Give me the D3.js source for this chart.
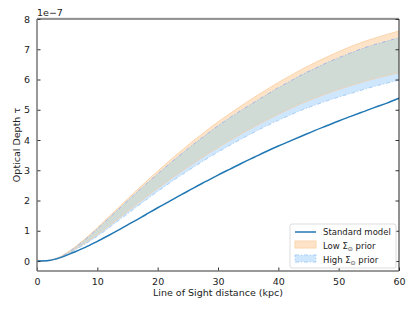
<!DOCTYPE html>
<html>
<head>
<meta charset="utf-8">
<script src="https://d3js.org/d3.v7.min.js"></script>
<style>
  body { margin: 0; background: #fff; }
  svg { font-family: "DejaVu Sans", sans-serif; }
</style>
</head>
<body>
<svg id="chart" width="415" height="311"></svg>
<script>
// distance along the line of sight (kpc), values in units of 1e-7
var distance = [0, 2, 4, 6, 8, 10, 12, 14, 16, 18, 20, 22, 24, 26, 28, 30,
                32, 34, 36, 38, 40, 42, 44, 46, 48, 50, 52, 54, 56, 58, 60];
var standard = [0, 0.02, 0.12, 0.28, 0.45, 0.65, 0.86, 1.08, 1.30, 1.53, 1.76, 1.98,
                2.20, 2.42, 2.63, 2.84, 3.04, 3.24, 3.43, 3.62, 3.80, 3.97, 4.14,
                4.31, 4.47, 4.63, 4.78, 4.93, 5.08, 5.22, 5.38];
var lowUpper = [0, 0.02, 0.16, 0.42, 0.74, 1.10, 1.48, 1.86, 2.24, 2.61, 2.97, 3.32,
                3.66, 3.99, 4.30, 4.60, 4.88, 5.15, 5.41, 5.66, 5.90, 6.13, 6.35,
                6.55, 6.74, 6.92, 7.09, 7.24, 7.37, 7.49, 7.60];
var lowLower = [0, 0.02, 0.13, 0.35, 0.60, 0.87, 1.17, 1.48, 1.79, 2.10, 2.40, 2.69,
                2.97, 3.24, 3.50, 3.75, 3.99, 4.22, 4.44, 4.65, 4.85, 5.04, 5.22,
                5.38, 5.53, 5.67, 5.80, 5.92, 6.03, 6.13, 6.22];
var highUpper = [0, 0.02, 0.15, 0.40, 0.71, 1.06, 1.43, 1.80, 2.17, 2.53, 2.88, 3.22,
                 3.55, 3.87, 4.17, 4.47, 4.74, 5.00, 5.25, 5.49, 5.73, 5.95, 6.17,
                 6.36, 6.55, 6.72, 6.88, 7.03, 7.16, 7.27, 7.38];
var highLower = [0, 0.02, 0.12, 0.33, 0.57, 0.82, 1.11, 1.41, 1.71, 2.01, 2.30, 2.58,
                 2.85, 3.11, 3.36, 3.60, 3.83, 4.05, 4.26, 4.46, 4.65, 4.83, 5.00,
                 5.15, 5.29, 5.42, 5.54, 5.66, 5.78, 5.88, 5.98];
var xTicks = [0, 10, 20, 30, 40, 50, 60];
var yTicks = [0, 1, 2, 3, 4, 5, 6, 7, 8];

var svg = d3.select("#chart");
var mLeft = 37, mRight = 399, mTop = 19, mBottom = 271;

var x = d3.scaleLinear().domain([0, 60]).range([mLeft, mRight]);
var y = d3.scaleLinear().domain([-0.33, 8]).range([mBottom, mTop]);

var rows = distance.map(function(d, i) {
    return { d: d, s: standard[i], lu: lowUpper[i], ll: lowLower[i], hu: highUpper[i], hl: highLower[i] };
});

var band = function(lo, hi) {
    return d3.area().x(function(r) { return x(r.d); })
        .y0(function(r) { return y(lo(r)); })
        .y1(function(r) { return y(hi(r)); })
        .curve(d3.curveMonotoneX);
};
var line = function(f) {
    return d3.line().x(function(r) { return x(r.d); })
        .y(function(r) { return y(f(r)); })
        .curve(d3.curveMonotoneX);
};

// bands
svg.append("path").attr("d", band(function(r) { return r.ll; }, function(r) { return r.lu; })(rows))
    .attr("fill", "#fde4c9");
svg.append("path").attr("d", band(function(r) { return r.hl; }, function(r) { return r.hu; })(rows))
    .attr("fill", "#cfe7fc");
svg.append("path").attr("d", band(function(r) { return Math.max(r.ll, r.hl); },
                                  function(r) { return Math.min(r.lu, r.hu); })(rows))
    .attr("fill", "#cfdbd4");

// band edges
svg.append("path").attr("d", line(function(r) { return r.lu; })(rows))
    .attr("fill", "none").attr("stroke", "#fbd5ad").attr("stroke-width", 1);
svg.append("path").attr("d", line(function(r) { return r.ll; })(rows))
    .attr("fill", "none").attr("stroke", "#e9d3bd").attr("stroke-width", 1);
svg.append("path").attr("d", line(function(r) { return r.hu; })(rows))
    .attr("fill", "none").attr("stroke", "#aab7e3").attr("stroke-width", 1)
    .attr("stroke-dasharray", "4,2,1,2");
svg.append("path").attr("d", line(function(r) { return r.hl; })(rows))
    .attr("fill", "none").attr("stroke", "#a9cdf5").attr("stroke-width", 1)
    .attr("stroke-dasharray", "4,2,1,2");

// standard model
svg.append("path").attr("d", line(function(r) { return r.s; })(rows))
    .attr("fill", "none").attr("stroke", "#1f77b4").attr("stroke-width", 1.5);

// axes
var xAxis = d3.axisBottom(x).tickValues(xTicks).tickSizeInner(-3.5).tickSizeOuter(0).tickPadding(7);
var yAxis = d3.axisLeft(y).tickValues(yTicks).tickSizeInner(-3.5).tickSizeOuter(0).tickPadding(7);
var yAxisR = d3.axisRight(y).tickValues(yTicks).tickSizeInner(-3.5).tickSizeOuter(0).tickFormat("");

var gx = svg.append("g").attr("transform", "translate(0," + mBottom + ")").call(xAxis);
var gy = svg.append("g").attr("transform", "translate(" + mLeft + ",0)").call(yAxis);
var gr = svg.append("g").attr("transform", "translate(" + mRight + ",0)").call(yAxisR);
[gx, gy, gr].forEach(function(g) {
    g.select(".domain").remove();
    g.selectAll("text").attr("font-size", 9.5).attr("fill", "#222").attr("font-family", "DejaVu Sans");
    g.selectAll("line").attr("stroke", "#333");
});

// frame
svg.append("line").attr("x1", mLeft).attr("x2", mRight).attr("y1", mTop - 1).attr("y2", mTop - 1)
    .attr("stroke", "#ddd");
svg.append("line").attr("x1", mLeft).attr("x2", mRight).attr("y1", mTop).attr("y2", mTop)
    .attr("stroke", "#333");
svg.append("line").attr("x1", mRight).attr("x2", mRight).attr("y1", mTop).attr("y2", mBottom)
    .attr("stroke", "#222");
svg.append("line").attr("x1", mLeft).attr("x2", mLeft).attr("y1", mTop).attr("y2", mBottom)
    .attr("stroke", "#777").attr("stroke-width", 1.5);
svg.append("line").attr("x1", mLeft).attr("x2", mRight).attr("y1", mBottom).attr("y2", mBottom)
    .attr("stroke", "#777").attr("stroke-width", 1.5);

// offset text and labels
svg.append("text").attr("x", mLeft).attr("y", mTop - 3).attr("font-size", 9.5).attr("fill", "#222")
    .text("1e\u22127");
svg.append("text").attr("x", (mLeft + mRight) / 2).attr("y", 296).attr("text-anchor", "middle")
    .attr("font-size", 9.5).attr("fill", "#222").text("Line of Sight distance (kpc)");
svg.append("text").attr("transform", "translate(20," + (mTop + mBottom) / 2 + ") rotate(-90)")
    .attr("text-anchor", "middle").attr("font-size", 9.5).attr("fill", "#222")
    .text("Optical Depth \u03c4");

// legend
var lg = svg.append("g").attr("transform", "translate(290,224)");
lg.append("rect").attr("width", 106).attr("height", 44).attr("rx", 2)
    .attr("fill", "#fff").attr("fill-opacity", 0.8).attr("stroke", "#ddd");
lg.append("line").attr("x1", 5).attr("x2", 26).attr("y1", 8).attr("y2", 8)
    .attr("stroke", "#1f77b4").attr("stroke-width", 1.5);
lg.append("rect").attr("x", 5).attr("y", 17).attr("width", 21).attr("height", 7)
    .attr("fill", "#fde4c9").attr("stroke", "#fbd5ad");
lg.append("rect").attr("x", 5).attr("y", 31).attr("width", 21).attr("height", 7)
    .attr("fill", "#cfe7fc").attr("stroke", "#a9cdf5").attr("stroke-dasharray", "4,2,1,2");
var labels = ["Standard model", "Low \u03a3", "High \u03a3"];
labels.forEach(function(t, i) {
    var tx = lg.append("text").attr("x", 33).attr("y", 11 + i * 14).attr("font-size", 8.5).attr("fill", "#222");
    tx.append("tspan").text(t);
    if (i > 0) {
        tx.append("tspan").attr("font-size", 6).attr("dy", 2).text("\u2299");
        tx.append("tspan").attr("dy", -2).text(" prior");
    }
});
</script>
</body>
</html>
